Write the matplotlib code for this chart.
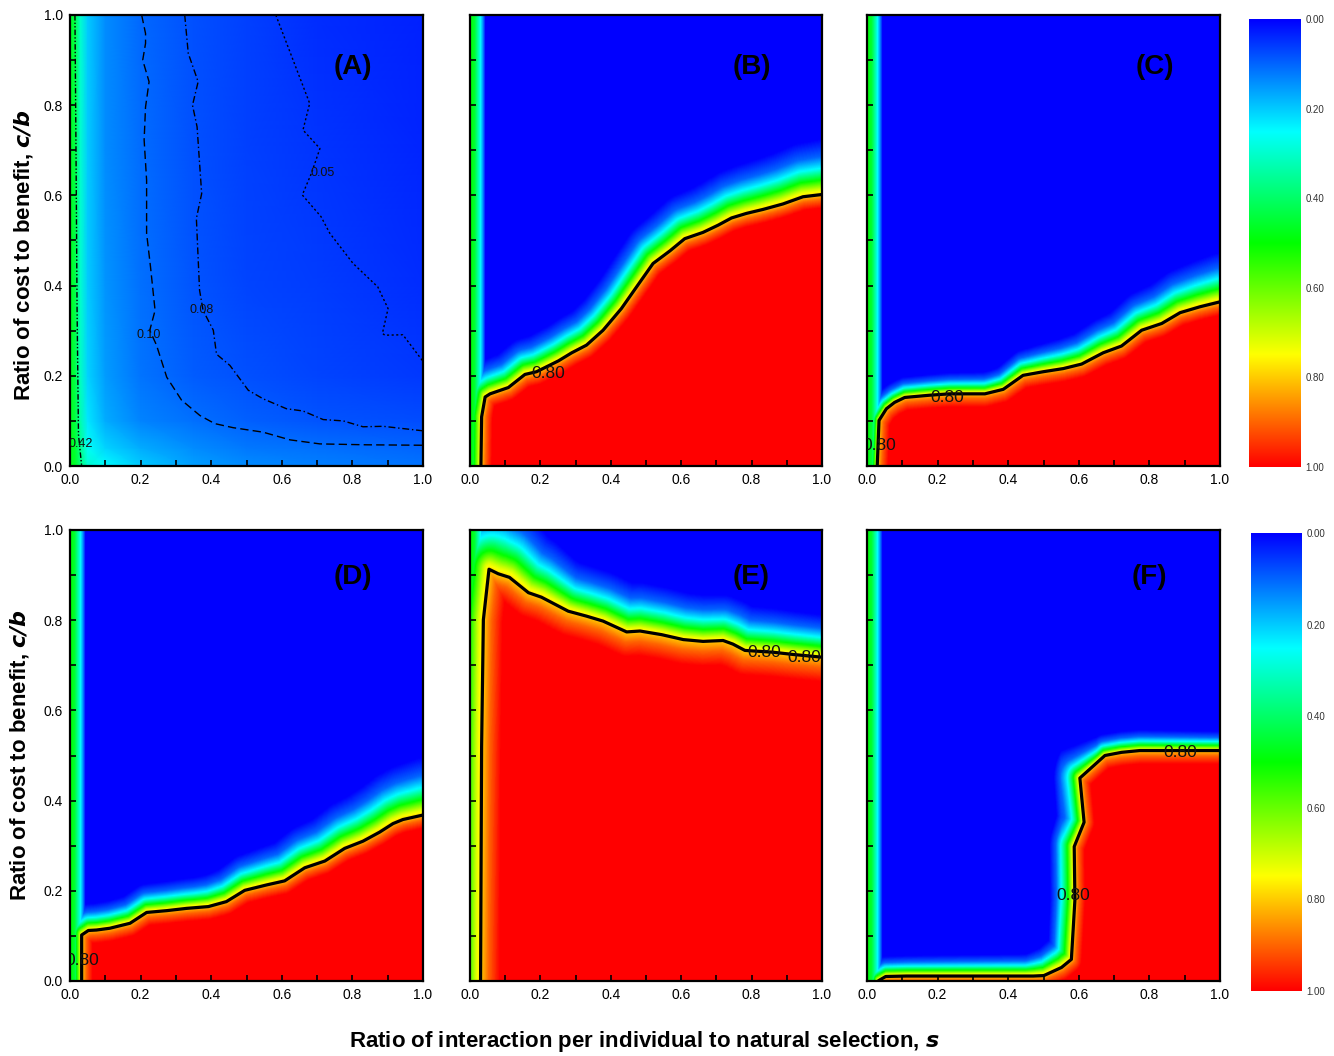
import numpy as np
import matplotlib
matplotlib.use("Agg")
import matplotlib.pyplot as plt
from matplotlib.colors import LinearSegmentedColormap
from matplotlib.path import Path
from matplotlib.ticker import MultipleLocator, FormatStrFormatter

plt.rcParams['font.family'] = ['Liberation Sans', 'DejaVu Sans']

# ---- panel A: contour lines (s, c/b) ----
a10_s = [0.203, 0.214, 0.214, 0.206, 0.224, 0.214, 0.210, 0.217, 0.217, 0.228, 0.241, 0.226, 0.245,
         0.274, 0.316, 0.368, 0.410, 0.462, 0.547, 0.623, 0.708, 0.840, 1.0]
a10_cb = [1.0, 0.959, 0.937, 0.900, 0.852, 0.796, 0.723, 0.634, 0.516, 0.442, 0.345, 0.301, 0.268,
          0.197, 0.146, 0.112, 0.094, 0.085, 0.075, 0.058, 0.049, 0.047, 0.046]
a08_s = [0.325, 0.335, 0.363, 0.347, 0.360, 0.373, 0.358, 0.367, 0.377, 0.406, 0.415, 0.453, 0.505,
         0.547, 0.613, 0.660, 0.717, 0.774, 0.830, 0.887, 1.0]
a08_cb = [1.0, 0.915, 0.852, 0.800, 0.752, 0.604, 0.549, 0.390, 0.345, 0.301, 0.248, 0.223, 0.168,
          0.149, 0.127, 0.122, 0.103, 0.100, 0.087, 0.088, 0.078]
a05_s = [0.583, 0.632, 0.679, 0.660, 0.708, 0.684, 0.658, 0.711, 0.736, 0.802, 0.872, 0.901, 0.885,
         0.892, 0.943, 1.0]
a05_cb = [1.0, 0.900, 0.804, 0.745, 0.704, 0.649, 0.601, 0.553, 0.516, 0.449, 0.397, 0.349, 0.294,
          0.290, 0.291, 0.232]
a42_s = [0.014, 0.017, 0.020, 0.024, 0.033]
a42_cb = [1.0, 0.70, 0.35, 0.07, 0.0]

# panel A background, coarse table of values estimated from the colours
a_grid_s = [0, 0.015, 0.03, 0.05, 0.1, 0.2, 0.35, 0.5, 0.7, 1.0]
a_grid_cb = [0, 0.04, 0.1, 0.2, 0.4, 0.7, 1.0]
a_grid_v = [
    [0.48, 0.46, 0.38, 0.30, 0.25, 0.20, 0.16, 0.14, 0.125, 0.115],
    [0.48, 0.45, 0.36, 0.26, 0.21, 0.17, 0.14, 0.12, 0.11, 0.101],
    [0.47, 0.44, 0.33, 0.23, 0.17, 0.13, 0.11, 0.097, 0.085, 0.075],
    [0.47, 0.43, 0.31, 0.21, 0.155, 0.115, 0.093, 0.08, 0.068, 0.058],
    [0.47, 0.43, 0.30, 0.20, 0.145, 0.11, 0.083, 0.07, 0.06, 0.046],
    [0.47, 0.43, 0.30, 0.20, 0.14, 0.108, 0.081, 0.066, 0.052, 0.038],
    [0.47, 0.43, 0.30, 0.20, 0.14, 0.105, 0.079, 0.064, 0.046, 0.035],
]

# ---- panels B-F: the 0.80 contour ----
b_s = [0.031, 0.033, 0.043, 0.057, 0.109, 0.156, 0.189, 0.251, 0.289, 0.331, 0.378, 0.430, 0.483,
       0.520, 0.568, 0.610, 0.662, 0.705, 0.743, 0.785, 0.833, 0.889, 0.946, 1.0]
b_cb = [0.0, 0.109, 0.153, 0.160, 0.174, 0.203, 0.209, 0.233, 0.251, 0.268, 0.301, 0.349, 0.408,
        0.449, 0.477, 0.504, 0.518, 0.534, 0.550, 0.560, 0.569, 0.581, 0.597, 0.602]
c_s = [0.029, 0.034, 0.055, 0.078, 0.107, 0.178, 0.234, 0.334, 0.386, 0.442, 0.499, 0.556, 0.608,
       0.669, 0.721, 0.778, 0.835, 0.887, 0.943, 1.0]
c_cb = [0.0, 0.101, 0.127, 0.141, 0.152, 0.157, 0.160, 0.160, 0.170, 0.201, 0.209, 0.216, 0.226,
        0.251, 0.266, 0.301, 0.316, 0.340, 0.353, 0.364]
d_s = [0.033, 0.033, 0.052, 0.075, 0.113, 0.170, 0.217, 0.274, 0.330, 0.392, 0.443, 0.495, 0.557,
       0.608, 0.665, 0.722, 0.778, 0.830, 0.877, 0.915, 0.943, 1.0]
d_cb = [0.0, 0.102, 0.112, 0.113, 0.117, 0.128, 0.152, 0.156, 0.161, 0.165, 0.176, 0.201, 0.213,
        0.222, 0.251, 0.266, 0.294, 0.310, 0.330, 0.349, 0.358, 0.368]
e_s = [0.030, 0.033, 0.038, 0.054, 0.080, 0.112, 0.166, 0.203, 0.279, 0.331, 0.378, 0.445, 0.483,
       0.544, 0.606, 0.662, 0.719, 0.747, 0.781, 0.861, 0.918, 1.0]
e_cb = [0.0, 0.520, 0.801, 0.913, 0.903, 0.895, 0.861, 0.851, 0.820, 0.809, 0.798, 0.774, 0.776,
        0.768, 0.757, 0.753, 0.755, 0.747, 0.733, 0.729, 0.724, 0.718]
f_s = [0.031, 0.053, 0.112, 0.471, 0.501, 0.551, 0.579, 0.589, 0.587, 0.615, 0.603, 0.674, 0.721,
       0.773, 1.0]
f_cb = [0.0, 0.010, 0.011, 0.011, 0.012, 0.030, 0.048, 0.180, 0.298, 0.352, 0.450, 0.500, 0.507,
        0.511, 0.511]

panel_names = ['(A)', '(B)', '(C)', '(D)', '(E)', '(F)']
contours = [None, (b_s, b_cb), (c_s, c_cb), (d_s, d_cb), (e_s, e_cb), (f_s, f_cb)]
# how far the colour band above the contour spreads, as knots along s
spread = [None,
          ([0, 0.3, 1.0], [0.8, 0.9, 1.3]),
          ([0, 0.35, 1.0], [0.45, 0.5, 1.15]),
          ([0, 0.35, 1.0], [0.6, 0.7, 1.35]),
          ([0, 0.1, 0.3, 1.0], [1.6, 1.8, 1.2, 1.0]),
          ([0, 0.45, 0.55, 0.65, 1.0], [0.45, 0.5, 0.85, 0.5, 0.45])]
# depth of the orange rim below the contour
rim = [None, 1.0, 1.0, 1.0, 1.8, 1.0]
# contour label positions
clabels = [None,
           [(0.222, 0.205)],
           [(0.228, 0.152), (0.036, 0.046)],
           [(0.036, 0.046)],
           [(0.835, 0.728), (0.950, 0.718)],
           [(0.584, 0.190), (0.887, 0.507)]]

cmap = LinearSegmentedColormap.from_list(
    'bcgyr', [(0, 0, 1), (0, 1, 1), (0, 1, 0), (1, 1, 0), (1, 0, 0)])

n = 351
g = np.linspace(0, 1, n)
GX, GY = np.meshgrid(g, g)
P = np.column_stack([GX.ravel(), GY.ravel()])

prof_d = [-0.095, -0.065, -0.045, -0.025, -0.01, 0.0, 0.012, 0.03]
prof_z = [0.0, 0.1, 0.25, 0.5, 0.7, 0.8, 0.9, 1.0]
strip_x = [0, 0.012, 0.025, 0.035, 0.043]
strip_z = [0.5, 0.45, 0.3, 0.15, 0.0]


def dist_to_line(xs, ys):
    d = np.full(len(P), np.inf)
    for i in range(len(xs) - 1):
        x0, y0, x1, y1 = xs[i], ys[i], xs[i + 1], ys[i + 1]
        vx, vy = x1 - x0, y1 - y0
        t = np.clip(((P[:, 0] - x0) * vx + (P[:, 1] - y0) * vy) / (vx * vx + vy * vy), 0, 1)
        d = np.minimum(d, np.hypot(P[:, 0] - x0 - t * vx, P[:, 1] - y0 - t * vy))
    return d


def region_field(xs, ys, w, depth):
    d = dist_to_line(xs, ys)
    poly = list(zip(xs, ys)) + [(1.3, ys[-1]), (1.3, -0.3), (xs[0], -0.3)]
    inside = Path(poly).contains_points(P)
    ww = np.interp(P[:, 0], w[0], w[1])
    sd = np.where(inside, d / depth, -d / ww)
    z = np.interp(sd, prof_d, prof_z)
    z = np.maximum(z, np.interp(P[:, 0], strip_x, strip_z))
    return z.reshape(n, n)


fig = plt.figure(figsize=(13.34, 10.56), dpi=100)
W, H = 1334.0, 1056.0
lefts = [70, 470, 867]
tops = [15, 530]

for k in range(6):
    r, cidx = divmod(k, 3)
    x0 = lefts[cidx]
    w = 353 if cidx != 1 else 352
    ax = fig.add_axes([x0 / W, 1 - (tops[r] + 451) / H, w / W, 451 / H])
    if k == 0:
        ax.pcolormesh(a_grid_s, a_grid_cb, np.array(a_grid_v), cmap=cmap, vmin=0, vmax=1,
                      shading='gouraud', rasterized=True)
        ax.plot(a10_s, a10_cb, color='k', lw=1.0, dashes=(6, 3))
        ax.plot(a08_s, a08_cb, color='k', lw=1.0, dashes=(5, 2, 1, 2))
        ax.plot(a05_s, a05_cb, color='k', lw=1.0, dashes=(1.5, 1.8))
        ax.plot(a42_s, a42_cb, color='k', lw=1.0, dashes=(4, 1.5, 1, 1.5, 1, 1.5))
        for (tx, ty, t) in [(0.224, 0.29, '0.10'), (0.372, 0.347, '0.08'), (0.717, 0.649, '0.05'),
                            (0.03, 0.048, '0.42')]:
            ax.text(tx, ty, t, fontsize=9, ha='center', va='center', color='#111111', clip_on=True)
    else:
        z = region_field(*contours[k], spread[k], rim[k])
        ax.imshow(z, origin='lower', extent=[0, 1, 0, 1], cmap=cmap, vmin=0, vmax=1,
                  aspect='auto', interpolation='bilinear')
        xs, ys = contours[k]
        ax.plot(xs, ys, color='k', lw=2.3, solid_joinstyle='round', solid_capstyle='butt')
        for (tx, ty) in clabels[k]:
            ax.text(tx, ty, '0.80', fontsize=12.5, ha='center', va='center', color='#111111', clip_on=True)
    ax.text(0.80 if k != 2 else 0.816, 0.885 if r == 0 else 0.895, panel_names[k],
            fontsize=20, fontweight='bold', ha='center', va='center')
    ax.set_xlim(0, 1)
    ax.set_ylim(0, 1)
    ax.xaxis.set_major_locator(MultipleLocator(0.2))
    ax.xaxis.set_minor_locator(MultipleLocator(0.1))
    ax.yaxis.set_major_locator(MultipleLocator(0.2))
    ax.yaxis.set_minor_locator(MultipleLocator(0.1))
    ax.xaxis.set_major_formatter(FormatStrFormatter('%.1f'))
    ax.yaxis.set_major_formatter(FormatStrFormatter('%.1f'))
    ax.tick_params(which='both', direction='in', length=4.5, width=1.2, labelsize=10, pad=5)
    if cidx != 0:
        ax.tick_params(axis='y', labelleft=False)
    for sp in ax.spines.values():
        sp.set_linewidth(1.6)

# colour bars
for (x0, y0, x1, y1) in [(1249, 19, 1301, 467), (1251, 533, 1302, 991)]:
    cax = fig.add_axes([x0 / W, 1 - y1 / H, (x1 - x0) / W, (y1 - y0) / H])
    cax.imshow(np.linspace(0, 1, 256)[:, None], cmap=cmap, vmin=0, vmax=1, aspect='auto',
               extent=[0, 1, 1, 0], interpolation='bilinear')
    cax.set_xlim(0, 1)
    cax.set_ylim(1, 0)
    cax.set_xticks([])
    cax.set_yticks([0, 0.2, 0.4, 0.6, 0.8, 1.0])
    cax.yaxis.set_major_formatter(FormatStrFormatter('%.2f'))
    cax.yaxis.tick_right()
    cax.tick_params(axis='y', length=0, labelsize=7, pad=3, colors='#333333')
    for sp in cax.spines.values():
        sp.set_visible(False)

lab = dict(fontsize=16, fontweight='bold')
fig.text(24 / W, 1 - 255 / H, 'Ratio of cost to benefit, $\\bfit{c/b}$', rotation=90,
         ha='center', va='center', **lab)
fig.text(20 / W, 1 - 755 / H, 'Ratio of cost to benefit, $\\bfit{c/b}$', rotation=90,
         ha='center', va='center', **lab)
fig.text(644 / W, 1 - 1042 / H, 'Ratio of interaction per individual to natural selection, $\\bfit{s}$',
         ha='center', va='center', **lab)

fig.savefig('out.png', dpi=100)
